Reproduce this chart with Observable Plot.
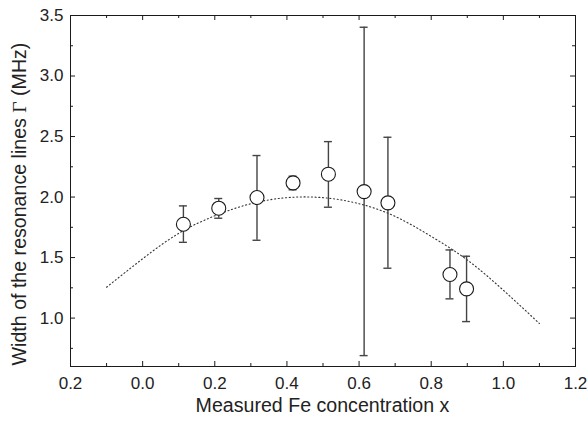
<!DOCTYPE html>
<html><head><meta charset="utf-8">
<script src="https://cdn.jsdelivr.net/npm/d3@7"></script>
<script src="https://cdn.jsdelivr.net/npm/@observablehq/plot@0.6"></script>
<style>body{margin:0;background:#fff} svg{display:block}</style>
</head><body><div id="chart"></div>
<script>
const feConc   = [0.113, 0.211, 0.317, 0.417, 0.515, 0.614, 0.680, 0.852, 0.898];
const lineWidth = [1.775, 1.908, 1.996, 2.117, 2.189, 2.045, 1.952, 1.360, 1.241];
const errLower = [1.626, 1.825, 1.643, 2.060, 1.916, 0.690, 1.412, 1.159, 0.971];
const errUpper = [1.927, 1.988, 2.343, 2.172, 2.458, 3.403, 2.494, 1.563, 1.511];

// Dotted fit curve
const fitX = [-0.1, 0.0, 0.1, 0.2, 0.3, 0.4, 0.5, 0.6, 0.7, 0.8, 0.9, 1.0, 1.1];
const fitY = [1.255, 1.49, 1.70, 1.845, 1.945, 1.995, 1.995, 1.945, 1.84, 1.675, 1.48, 1.23, 0.955];

// Axis ticks
const xMajor = [-0.2, 0.0, 0.2, 0.4, 0.6, 0.8, 1.0, 1.2];
const xTickLabels = ["0.2", "0.0", "0.2", "0.4", "0.6", "0.8", "1.0", "1.2"];
const xMinor = [-0.1, 0.1, 0.3, 0.5, 0.7, 0.9, 1.1];
const yMajor = [1.0, 1.5, 2.0, 2.5, 3.0, 3.5];
const yTickLabels = ["1.0", "1.5", "2.0", "2.5", "3.0", "3.5"];
const yMinor = [0.75, 1.25, 1.75, 2.25, 2.75, 3.25];

const xLabel = "Measured Fe concentration x";
const yLabelParts = ["Width of the resonance lines ", "\u0393", " (MHz)"];

const W = 588, H = 426, mL = 70, mR = 13, mT = 15, mB = 60;
const innerH = H - mT - mB, innerW = W - mL - mR;

const pts = feConc.map((x, i) => ({x, y: lineWidth[i], lo: errLower[i], hi: errUpper[i]}));
const fit = fitX.map((x, i) => ({x, y: fitY[i]}));

const ink = "#1a1a1a";
const chart = Plot.plot({
  width: W, height: H,
  marginLeft: mL, marginRight: mR, marginTop: mT, marginBottom: mB,
  style: {fontFamily: "'Liberation Sans', Arial, sans-serif", fontSize: "17px", color: "#222", background: "#fff"},
  x: {domain: [-0.2, 1.2]},
  y: {domain: [0.6, 3.5]},
  marks: [
    Plot.ruleX(xMajor, {insetTop: innerH - 5, stroke: ink}),
    Plot.ruleX(xMajor, {insetBottom: innerH - 5, stroke: ink}),
    Plot.ruleX(xMinor, {insetTop: innerH - 3, stroke: ink}),
    Plot.ruleX(xMinor, {insetBottom: innerH - 3, stroke: ink}),
    Plot.ruleY(yMajor, {insetRight: innerW - 5, stroke: ink}),
    Plot.ruleY(yMajor, {insetLeft: innerW - 5, stroke: ink}),
    Plot.ruleY(yMinor, {insetRight: innerW - 3, stroke: ink}),
    Plot.ruleY(yMinor, {insetLeft: innerW - 3, stroke: ink}),
    Plot.axisX(xMajor, {tickSize: 0, tickPadding: 10, fontSize: 17, tickFormat: (d, i) => xTickLabels[i], label: null, fill: "#222"}),
    Plot.axisY(yMajor, {tickSize: 0, tickPadding: 7, fontSize: 17, tickFormat: (d, i) => yTickLabels[i], label: null, fill: "#222"}),
    Plot.frame({stroke: ink, strokeWidth: 1}),
    Plot.line(fit, {x: "x", y: "y", curve: "natural", stroke: "#333", strokeWidth: 1.1, strokeDasharray: "1.1,2.6"}),
    Plot.ruleX(pts, {x: "x", y1: "lo", y2: "hi", stroke: "#444", strokeWidth: 1.4}),
    Plot.ruleY(pts, {y: "lo", x1: "x", x2: "x", insetLeft: -4, insetRight: -4, stroke: "#444", strokeWidth: 1.4}),
    Plot.ruleY(pts, {y: "hi", x1: "x", x2: "x", insetLeft: -4, insetRight: -4, stroke: "#444", strokeWidth: 1.4}),
    Plot.dot(pts, {x: "x", y: "y", r: 7, fill: "white", stroke: ink, strokeWidth: 1.1})
  ]
});

const svg = d3.select(chart);
svg.append("text")
  .attr("x", mL + innerW / 2).attr("y", 412)
  .attr("text-anchor", "middle")
  .attr("font-size", 19.6).attr("fill", "#222")
  .text(xLabel);
const yl = svg.append("text")
  .attr("transform", "translate(26,204) rotate(-90)")
  .attr("text-anchor", "middle")
  .attr("font-size", 19.6).attr("fill", "#222");
yl.append("tspan").text(yLabelParts[0]);
yl.append("tspan").attr("font-family", "'Liberation Serif', 'DejaVu Serif', serif").text(yLabelParts[1]);
yl.append("tspan").text(yLabelParts[2]);

document.getElementById("chart").appendChild(chart);
</script>
</body></html>
